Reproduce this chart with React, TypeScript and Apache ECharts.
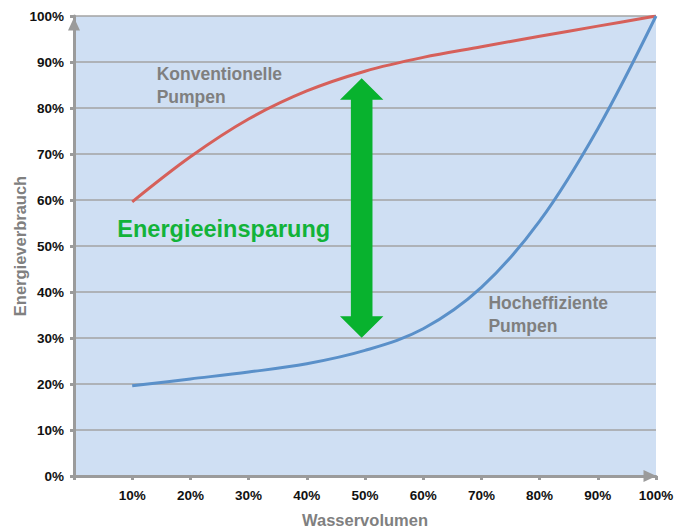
import React, { useEffect, useRef } from "react";
import * as echarts from "echarts";

const xValues = [10, 20, 30, 40, 50, 60, 70, 80, 90, 100];
const conventional = [59.6, 69.4, 77.6, 83.7, 88, 91, 93.3, 95.6, 97.8, 100];
const highEfficiency = [19.6, 21.1, 22.6, 24.4, 27.3, 32, 41, 55.4, 75.5, 100];
const arrowX = 49.43;
const arrowTop = 86.46;
const arrowBottom = 30.07;

const FONT = "'Liberation Sans', Arial, Helvetica, sans-serif";
const AXIS_GRAY = "#9b9b9b";

export default function App() {
  const ref = useRef<HTMLDivElement>(null);
  useEffect(() => {
    if (!ref.current) return;
    const chart = echarts.init(ref.current, undefined, { renderer: "svg" });
    const option: any = {
      animation: false,
      backgroundColor: "#ffffff",
      textStyle: { fontFamily: FONT },
      grid: {
        left: 74,
        right: 22,
        top: 16,
        bottom: 53,
        containLabel: false,
        outerBoundsMode: "none",
        show: true,
        backgroundColor: "#cfdff3",
        borderWidth: 0,
      },
      xAxis: {
        type: "value",
        min: 0,
        max: 100,
        interval: 10,
        name: "Wasservolumen",
        nameLocation: "middle",
        nameGap: 35,
        nameTextStyle: { color: "#808080", fontWeight: "bold", fontSize: 16.5, fontFamily: FONT },
        axisLine: {
          show: true,
          symbol: ["none", "triangle"],
          symbolSize: [12, 13],
          symbolOffset: [0, -6],
          lineStyle: { color: AXIS_GRAY, width: 3 },
        },
        axisTick: { show: true, inside: false, length: 4, lineStyle: { color: AXIS_GRAY, width: 3 } },
        axisLabel: {
          color: "#111",
          fontWeight: "bold",
          fontSize: 13.5,
          fontFamily: FONT,
          margin: 12,
          formatter: (v: number) => (v === 0 ? "" : v + "%"),
        },
        splitLine: { show: false },
      },
      yAxis: {
        type: "value",
        min: 0,
        max: 100,
        interval: 10,
        name: "Energieverbrauch",
        nameLocation: "middle",
        nameGap: 46,
        nameMoveOverlap: false,
        nameRotate: 90,
        nameTextStyle: { color: "#808080", fontWeight: "bold", fontSize: 16.5, fontFamily: FONT },
        axisLine: {
          show: true,
          symbol: ["none", "triangle"],
          symbolSize: [12, 13],
          symbolOffset: [0, -8],
          lineStyle: { color: AXIS_GRAY, width: 3 },
        },
        axisTick: { show: true, length: 4, lineStyle: { color: AXIS_GRAY, width: 3 } },
        axisLabel: {
          color: "#111",
          fontWeight: "bold",
          fontSize: 13.5,
          fontFamily: FONT,
          margin: 10,
          formatter: (v: number) => v + "%",
        },
        splitLine: { show: true, lineStyle: { color: "#a3a3a3", width: 1.5 } },
      },
      series: [
        {
          name: "Konventionelle Pumpen",
          type: "line",
          data: xValues.map((x, i) => [x, conventional[i]]),
          smooth: 0.35,
          showSymbol: false,
          lineStyle: { color: "#d6605a", width: 3 },
          z: 3,
        },
        {
          name: "Hocheffiziente Pumpen",
          type: "line",
          data: xValues.map((x, i) => [x, highEfficiency[i]]),
          smooth: 0.35,
          showSymbol: false,
          lineStyle: { color: "#5a90c9", width: 3 },
          z: 3,
        },
      ],
    };
    chart.setOption(option);

    const top = chart.convertToPixel({ gridIndex: 0 }, [arrowX, arrowTop]) as number[];
    const bot = chart.convertToPixel({ gridIndex: 0 }, [arrowX, arrowBottom]) as number[];
    const cx = top[0];
    const headH = 21.5;
    const headW = 21.7;
    const shaftW = 10.8;
    const pts = [
      [cx, top[1]],
      [cx + headW, top[1] + headH],
      [cx + shaftW, top[1] + headH],
      [cx + shaftW, bot[1] - headH],
      [cx + headW, bot[1] - headH],
      [cx, bot[1]],
      [cx - headW, bot[1] - headH],
      [cx - shaftW, bot[1] - headH],
      [cx - shaftW, top[1] + headH],
      [cx - headW, top[1] + headH],
    ];
    const p1 = chart.convertToPixel({ gridIndex: 0 }, [14.2, 89.9]) as number[];
    const p2 = chart.convertToPixel({ gridIndex: 0 }, [71.2, 40.1]) as number[];
    const p3 = chart.convertToPixel({ gridIndex: 0 }, [7.44, 53.7]) as number[];

    chart.setOption({
      graphic: [
        {
          type: "polygon",
          shape: { points: pts },
          style: { fill: "#08b22e" },
          z: 10,
        },
        {
          type: "text",
          x: p1[0],
          y: p1[1],
          style: {
            text: "Konventionelle\nPumpen",
            fill: "#7f7f7f",
            font: "bold 17.5px " + FONT,
            lineHeight: 23,
            textVerticalAlign: "top",
          },
          z: 10,
        },
        {
          type: "text",
          x: p2[0],
          y: p2[1],
          style: {
            text: "Hocheffiziente\nPumpen",
            fill: "#7f7f7f",
            font: "bold 17.5px " + FONT,
            lineHeight: 23,
            textVerticalAlign: "top",
          },
          z: 10,
        },
        {
          type: "text",
          x: p3[0],
          y: p3[1],
          style: {
            text: "Energieeinsparung",
            fill: "#12b339",
            font: "bold 23.5px " + FONT,
            textVerticalAlign: "middle",
          },
          z: 10,
        },
      ],
    });

    return () => chart.dispose();
  }, []);
  return <div ref={ref} style={{ width: 678, height: 529, position: "absolute", left: 0, top: 0 }} />;
}
